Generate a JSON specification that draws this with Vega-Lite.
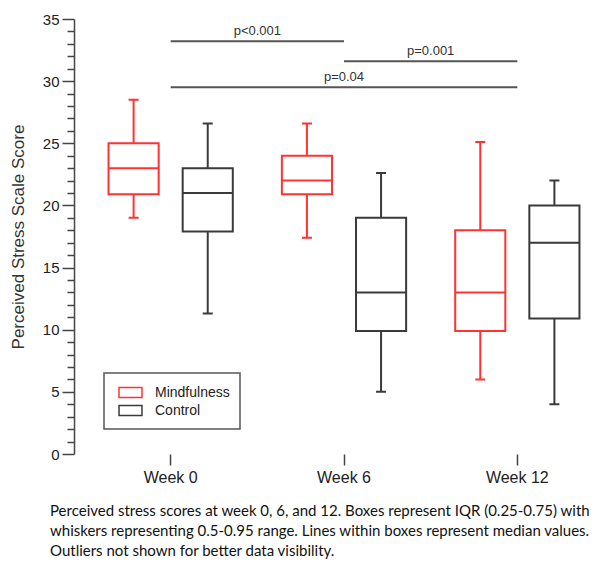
{
  "$schema": "https://vega.github.io/schema/vega-lite/v6.json",
  "width": 532,
  "height": 435,
  "autosize": {"type": "none"},
  "padding": {"left": 74, "top": 19, "right": 0, "bottom": 108},
  "background": "white",
  "config": {
    "view": {"stroke": null},
    "font": "Liberation Sans",
    "tick": {"opacity": 1},
    "axisY": {
      "titleFont": "Liberation Sans",
      "titleFontSize": 17,
      "titleFontWeight": "normal",
      "titleColor": "#333",
      "titlePadding": 15,
      "labelOverlap": false,
      "labelFont": "Liberation Sans",
      "labelFontSize": 15,
      "labelColor": "#222",
      "labelPadding": 3,
      "tickWidth": 1.5,
      "tickColor": "#444",
      "domainColor": "#444",
      "domainWidth": 1.5,
      "grid": false
    },
    "legend": {
      "orient": "none",
      "legendX": 30,
      "legendY": 354,
      "strokeColor": "#555",
      "strokeWidth": 1.5,
      "padding": 10,
      "labelFont": "Liberation Sans",
      "labelFontSize": 14,
      "labelColor": "#222",
      "labelOffset": 15,
      "rowPadding": 0,
      "symbolOffset": 7,
      "symbolType": "M-1.35,-0.59H1.35V0.59H-1.35Z",
      "symbolSize": 289,
      "symbolStrokeWidth": 1.5,
      "symbolFillColor": "white"
    }
  },
  "title": {
    "text": [
      "Perceived stress scores at week 0, 6, and 12. Boxes represent IQR (0.25-0.75) with",
      "whiskers representing 0.5-0.95 range. Lines within boxes represent median values.",
      "Outliers not shown for better data visibility."
    ],
    "orient": "bottom",
    "anchor": "start",
    "frame": "group",
    "font": "Lato",
    "fontSize": 15,
    "fontWeight": "normal",
    "color": "#111",
    "lineHeight": 20,
    "offset": 19,
    "dx": -24
  },
  "datasets": {
    "boxes": [
      {"week": "Week 0", "group": "Mindfulness", "lower": 19.0, "q1": 20.9, "median": 23.0, "q3": 25.0, "upper": 28.5},
      {"week": "Week 0", "group": "Control", "lower": 11.3, "q1": 17.9, "median": 21.0, "q3": 23.0, "upper": 26.6},
      {"week": "Week 6", "group": "Mindfulness", "lower": 17.4, "q1": 20.9, "median": 22.0, "q3": 24.0, "upper": 26.6},
      {"week": "Week 6", "group": "Control", "lower": 5.0, "q1": 9.9, "median": 13.0, "q3": 19.0, "upper": 22.6},
      {"week": "Week 12", "group": "Mindfulness", "lower": 6.0, "q1": 9.9, "median": 13.0, "q3": 18.0, "upper": 25.1},
      {"week": "Week 12", "group": "Control", "lower": 4.0, "q1": 10.9, "median": 17.0, "q3": 20.0, "upper": 22.0}
    ],
    "sig": [
      {"from": "Week 0", "to": "Week 6", "y": 33.2, "label": "p<0.001", "ly": 34.0, "mid": "Week 0", "kind": "edge"},
      {"from": "Week 6", "to": "Week 12", "y": 31.6, "label": "p=0.001", "ly": 32.4, "mid": "Week 6", "kind": "edge"},
      {"from": "Week 0", "to": "Week 12", "y": 29.5, "label": "p=0.04", "ly": 30.3, "mid": "Week 6", "kind": "center"}
    ]
  },
  "encoding": {
    "x": {
      "field": "week",
      "type": "nominal",
      "sort": ["Week 0", "Week 6", "Week 12"],
      "scale": {"domain": ["Week 0", "Week 6", "Week 12"], "range": [10, 530], "paddingInner": 0, "paddingOuter": 0},
      "axis": {
        "title": null,
        "labelAngle": 0,
        "labelFont": "Liberation Sans",
        "labelFontSize": 16,
        "labelColor": "#222",
        "labelPadding": 4,
        "tickSize": 11,
        "tickWidth": 1.5,
        "tickColor": "#444",
        "domain": false
      }
    }
  },
  "layer": [
    {
      "data": {"name": "boxes"},
      "mark": {"type": "rule", "strokeWidth": 2},
      "encoding": {
        "xOffset": {"field": "group", "type": "nominal", "scale": {"domain": ["Mindfulness", "Control"], "paddingInner": 0.324, "paddingOuter": 0.331}},
        "y": {
          "field": "lower",
          "type": "quantitative",
          "scale": {"domain": [0, 35], "nice": false},
          "axis": {
            "title": "Perceived Stress Scale Score",
            "values": [0,1,2,3,4,5,6,7,8,9,10,11,12,13,14,15,16,17,18,19,20,21,22,23,24,25,26,27,28,29,30,31,32,33,34,35],
            "labelExpr": "datum.value % 5 === 0 ? datum.label : ''",
            "tickSize": {"condition": {"test": "datum.value % 5 === 0", "value": 12}, "value": 7}
          }
        },
        "y2": {"field": "q1"},
        "stroke": {
          "field": "group",
          "type": "nominal",
          "scale": {"domain": ["Mindfulness", "Control"], "range": ["#ff3333", "#3a3a3a"]},
          "legend": {"title": null, "symbolFillColor": "white"}
        }
      }
    },
    {
      "data": {"name": "boxes"},
      "mark": {"type": "rule", "strokeWidth": 2},
      "encoding": {
        "xOffset": {"field": "group", "type": "nominal"},
        "y": {
          "field": "q3",
          "type": "quantitative",
          "axis": {
            "title": "Perceived Stress Scale Score",
            "values": [0,1,2,3,4,5,6,7,8,9,10,11,12,13,14,15,16,17,18,19,20,21,22,23,24,25,26,27,28,29,30,31,32,33,34,35],
            "labelExpr": "datum.value % 5 === 0 ? datum.label : ''",
            "tickSize": {"condition": {"test": "datum.value % 5 === 0", "value": 12}, "value": 7}
          }
        },
        "y2": {"field": "upper"},
        "stroke": {"field": "group", "type": "nominal"}
      }
    },
    {
      "mark": {"type": "rule", "color": "#444", "strokeWidth": 1.5},
      "encoding": {
        "y": {
          "datum": 35,
          "type": "quantitative",
          "axis": {
            "title": "Perceived Stress Scale Score",
            "values": [0,1,2,3,4,5,6,7,8,9,10,11,12,13,14,15,16,17,18,19,20,21,22,23,24,25,26,27,28,29,30,31,32,33,34,35],
            "labelExpr": "datum.value % 5 === 0 ? datum.label : ''",
            "tickSize": {"condition": {"test": "datum.value % 5 === 0", "value": 12}, "value": 7}
          }
        },
        "x": null
      }
    },
    {
      "mark": {"type": "rule", "color": "#444", "strokeWidth": 1.5},
      "encoding": {
        "y": {
          "datum": 0,
          "type": "quantitative",
          "axis": {
            "title": "Perceived Stress Scale Score",
            "values": [0,1,2,3,4,5,6,7,8,9,10,11,12,13,14,15,16,17,18,19,20,21,22,23,24,25,26,27,28,29,30,31,32,33,34,35],
            "labelExpr": "datum.value % 5 === 0 ? datum.label : ''",
            "tickSize": {"condition": {"test": "datum.value % 5 === 0", "value": 12}, "value": 7}
          }
        },
        "x": null
      }
    },
    {
      "data": {"name": "boxes"},
      "mark": {"type": "tick", "size": 10, "thickness": 0, "filled": false, "strokeWidth": 2, "opacity": 1},
      "encoding": {
        "xOffset": {"field": "group", "type": "nominal"},
        "y": {
          "field": "lower",
          "type": "quantitative",
          "axis": {
            "title": "Perceived Stress Scale Score",
            "values": [0,1,2,3,4,5,6,7,8,9,10,11,12,13,14,15,16,17,18,19,20,21,22,23,24,25,26,27,28,29,30,31,32,33,34,35],
            "labelExpr": "datum.value % 5 === 0 ? datum.label : ''",
            "tickSize": {"condition": {"test": "datum.value % 5 === 0", "value": 12}, "value": 7}
          }
        },
        "stroke": {"field": "group", "type": "nominal"}
      }
    },
    {
      "data": {"name": "boxes"},
      "mark": {"type": "tick", "size": 10, "thickness": 0, "filled": false, "strokeWidth": 2, "opacity": 1},
      "encoding": {
        "xOffset": {"field": "group", "type": "nominal"},
        "y": {
          "field": "upper",
          "type": "quantitative",
          "axis": {
            "title": "Perceived Stress Scale Score",
            "values": [0,1,2,3,4,5,6,7,8,9,10,11,12,13,14,15,16,17,18,19,20,21,22,23,24,25,26,27,28,29,30,31,32,33,34,35],
            "labelExpr": "datum.value % 5 === 0 ? datum.label : ''",
            "tickSize": {"condition": {"test": "datum.value % 5 === 0", "value": 12}, "value": 7}
          }
        },
        "stroke": {"field": "group", "type": "nominal"}
      }
    },
    {
      "data": {"name": "boxes"},
      "mark": {"type": "bar", "filled": false, "strokeWidth": 2},
      "encoding": {
        "xOffset": {"field": "group", "type": "nominal"},
        "y": {
          "field": "q1",
          "type": "quantitative",
          "axis": {
            "title": "Perceived Stress Scale Score",
            "values": [0,1,2,3,4,5,6,7,8,9,10,11,12,13,14,15,16,17,18,19,20,21,22,23,24,25,26,27,28,29,30,31,32,33,34,35],
            "labelExpr": "datum.value % 5 === 0 ? datum.label : ''",
            "tickSize": {"condition": {"test": "datum.value % 5 === 0", "value": 12}, "value": 7}
          }
        },
        "y2": {"field": "q3"},
        "stroke": {"field": "group", "type": "nominal"}
      }
    },
    {
      "data": {"name": "boxes"},
      "mark": {"type": "tick", "size": 50, "thickness": 0, "filled": false, "strokeWidth": 2, "opacity": 1},
      "encoding": {
        "xOffset": {"field": "group", "type": "nominal"},
        "y": {
          "field": "median",
          "type": "quantitative",
          "axis": {
            "title": "Perceived Stress Scale Score",
            "values": [0,1,2,3,4,5,6,7,8,9,10,11,12,13,14,15,16,17,18,19,20,21,22,23,24,25,26,27,28,29,30,31,32,33,34,35],
            "labelExpr": "datum.value % 5 === 0 ? datum.label : ''",
            "tickSize": {"condition": {"test": "datum.value % 5 === 0", "value": 12}, "value": 7}
          }
        },
        "stroke": {"field": "group", "type": "nominal"}
      }
    },
    {
      "data": {"name": "sig"},
      "mark": {"type": "rule", "color": "#555", "strokeWidth": 2},
      "encoding": {
        "x": {"field": "from", "type": "nominal"},
        "x2": {"field": "to"},
        "y": {
          "field": "y",
          "type": "quantitative",
          "axis": {
            "title": "Perceived Stress Scale Score",
            "values": [0,1,2,3,4,5,6,7,8,9,10,11,12,13,14,15,16,17,18,19,20,21,22,23,24,25,26,27,28,29,30,31,32,33,34,35],
            "labelExpr": "datum.value % 5 === 0 ? datum.label : ''",
            "tickSize": {"condition": {"test": "datum.value % 5 === 0", "value": 12}, "value": 7}
          }
        }
      }
    },
    {
      "data": {"name": "sig"},
      "transform": [{"filter": "datum.kind === 'edge'"}],
      "mark": {"type": "text", "font": "Liberation Sans", "fontSize": 13, "color": "#333", "baseline": "middle"},
      "encoding": {
        "x": {"field": "mid", "type": "nominal", "bandPosition": 1},
        "y": {
          "field": "ly",
          "type": "quantitative",
          "axis": {
            "title": "Perceived Stress Scale Score",
            "values": [0,1,2,3,4,5,6,7,8,9,10,11,12,13,14,15,16,17,18,19,20,21,22,23,24,25,26,27,28,29,30,31,32,33,34,35],
            "labelExpr": "datum.value % 5 === 0 ? datum.label : ''",
            "tickSize": {"condition": {"test": "datum.value % 5 === 0", "value": 12}, "value": 7}
          }
        },
        "text": {"field": "label"}
      }
    },
    {
      "data": {"name": "sig"},
      "transform": [{"filter": "datum.kind === 'center'"}],
      "mark": {"type": "text", "font": "Liberation Sans", "fontSize": 13, "color": "#333", "baseline": "middle"},
      "encoding": {
        "x": {"field": "mid", "type": "nominal", "bandPosition": 0.5},
        "y": {
          "field": "ly",
          "type": "quantitative",
          "axis": {
            "title": "Perceived Stress Scale Score",
            "values": [0,1,2,3,4,5,6,7,8,9,10,11,12,13,14,15,16,17,18,19,20,21,22,23,24,25,26,27,28,29,30,31,32,33,34,35],
            "labelExpr": "datum.value % 5 === 0 ? datum.label : ''",
            "tickSize": {"condition": {"test": "datum.value % 5 === 0", "value": 12}, "value": 7}
          }
        },
        "text": {"field": "label"}
      }
    }
  ]
}
